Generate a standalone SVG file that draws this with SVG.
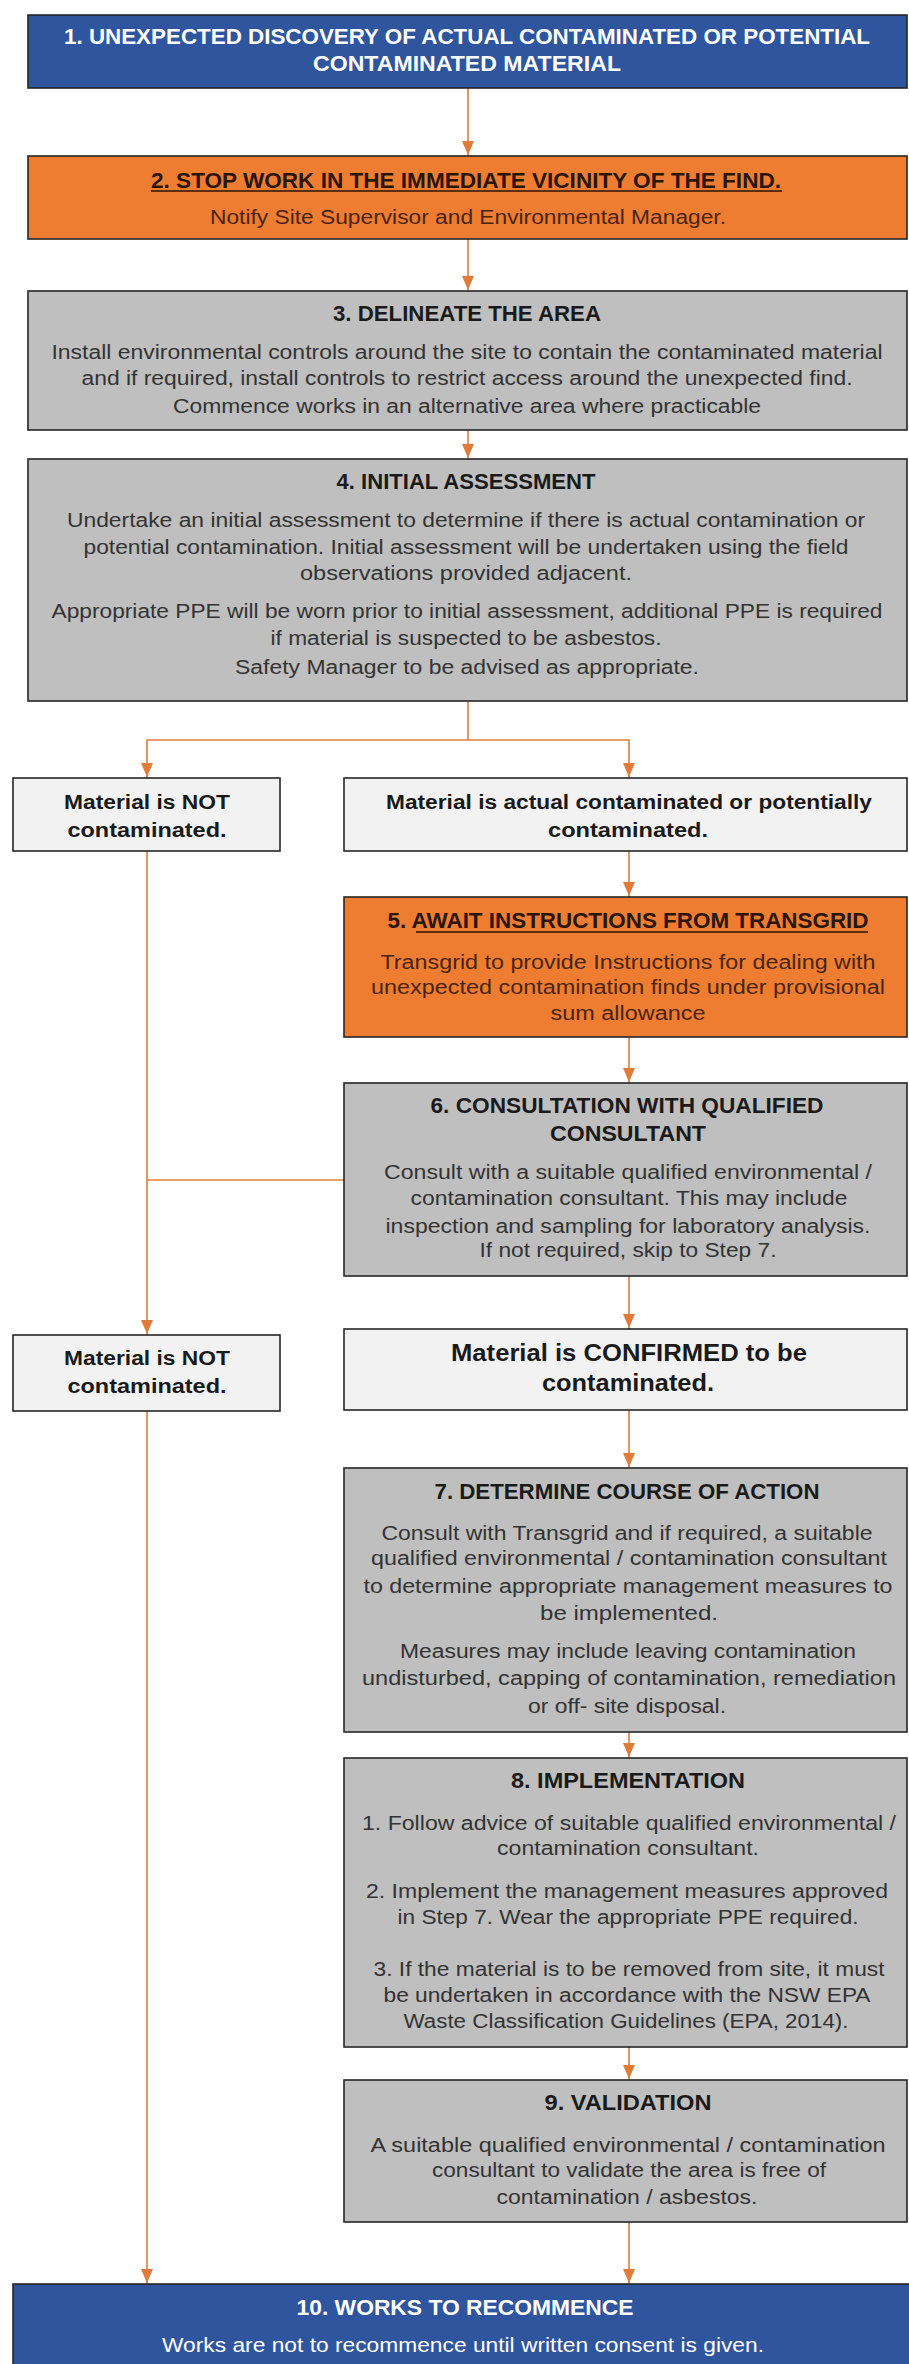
<svg xmlns="http://www.w3.org/2000/svg" width="909" height="2364" viewBox="0 0 909 2364">
<style>
.bx{stroke:#262626;stroke-width:1.6}
.blue{fill:#2F559E}
.org{fill:#EE7D31}
.gry{fill:#BFBFBF}
.lt{fill:#F2F2F2}
text{font-family:"Liberation Sans Narrow","Liberation Sans",Arial,sans-serif;text-anchor:middle}
.h{font-weight:bold;font-size:22px;fill:#1a1a1a}
.hw{font-weight:bold;font-size:22px;fill:#ffffff}
.ho{font-weight:bold;font-size:22px;fill:#2a1508}
.b{font-size:20px;fill:#333333}
.bo{font-size:20px;fill:#4a2410}
.bw{font-size:20px;fill:#ffffff}
.m{font-weight:bold;font-size:20px;fill:#1a1a1a}
.ul{stroke:#2a1508;stroke-width:1.5}
.c{stroke:#E07B39;stroke-width:1.6;fill:none}
.ah{fill:#E07B39}
</style>
<rect width="909" height="2364" fill="#ffffff"/>

<g id="connectors">
<line class="c" x1="468" y1="88" x2="468" y2="156"/>
<path class="ah" d="M462,141 L474,141 L468,155 Z"/>
<line class="c" x1="468" y1="239" x2="468" y2="291"/>
<path class="ah" d="M462,276 L474,276 L468,290 Z"/>
<line class="c" x1="468" y1="430" x2="468" y2="459"/>
<path class="ah" d="M462,444 L474,444 L468,458 Z"/>
<polyline class="c" points="468,701 468,740"/>
<polyline class="c" points="147,778 147,740 629,740 629,778"/>
<path class="ah" d="M141,763 L153,763 L147,777 Z"/>
<path class="ah" d="M623,763 L635,763 L629,777 Z"/>
<line class="c" x1="629" y1="851" x2="629" y2="897"/>
<path class="ah" d="M623,882 L635,882 L629,896 Z"/>
<line class="c" x1="629" y1="1037" x2="629" y2="1083"/>
<path class="ah" d="M623,1068 L635,1068 L629,1082 Z"/>
<line class="c" x1="147" y1="851" x2="147" y2="1335"/>
<path class="ah" d="M141,1320 L153,1320 L147,1334 Z"/>
<line class="c" x1="344" y1="1180" x2="147" y2="1180"/>
<line class="c" x1="629" y1="1276" x2="629" y2="1329"/>
<path class="ah" d="M623,1314 L635,1314 L629,1328 Z"/>
<line class="c" x1="629" y1="1410" x2="629" y2="1468"/>
<path class="ah" d="M623,1453 L635,1453 L629,1467 Z"/>
<line class="c" x1="629" y1="1732" x2="629" y2="1758"/>
<path class="ah" d="M623,1743 L635,1743 L629,1757 Z"/>
<line class="c" x1="629" y1="2047" x2="629" y2="2080"/>
<path class="ah" d="M623,2065 L635,2065 L629,2079 Z"/>
<line class="c" x1="629" y1="2222" x2="629" y2="2284"/>
<path class="ah" d="M623,2269 L635,2269 L629,2283 Z"/>
<line class="c" x1="147" y1="1411" x2="147" y2="2284"/>
<path class="ah" d="M141,2269 L153,2269 L147,2283 Z"/>
</g>

<g id="n1">
<rect class="bx blue" x="28" y="15" width="879" height="73"/>
<text class="hw" x="467" y="44" textLength="806" lengthAdjust="spacingAndGlyphs">1. UNEXPECTED DISCOVERY OF ACTUAL CONTAMINATED OR POTENTIAL</text>
<text class="hw" x="467" y="71" textLength="308" lengthAdjust="spacingAndGlyphs">CONTAMINATED MATERIAL</text>
</g>

<g id="n2">
<rect class="bx org" x="28" y="156" width="879" height="83"/>
<text class="ho" x="466" y="188" textLength="630" lengthAdjust="spacingAndGlyphs">2. STOP WORK IN THE IMMEDIATE VICINITY OF THE FIND.</text>
<line class="ul" x1="151" y1="191" x2="782" y2="191"/>
<text class="bo" x="468" y="224" textLength="516" lengthAdjust="spacingAndGlyphs">Notify Site Supervisor and Environmental Manager.</text>
</g>

<g id="n3">
<rect class="bx gry" x="28" y="291" width="879" height="139"/>
<text class="h" x="467" y="321" textLength="268" lengthAdjust="spacingAndGlyphs">3. DELINEATE THE AREA</text>
<text class="b" x="467" y="359" textLength="831" lengthAdjust="spacingAndGlyphs">Install environmental controls around the site to contain the contaminated material</text>
<text class="b" x="467" y="385" textLength="771" lengthAdjust="spacingAndGlyphs">and if required, install controls to restrict access around the unexpected find.</text>
<text class="b" x="467" y="413" textLength="588" lengthAdjust="spacingAndGlyphs">Commence works in an alternative area where practicable</text>
</g>

<g id="n4">
<rect class="bx gry" x="28" y="459" width="879" height="242"/>
<text class="h" x="466" y="489" textLength="259" lengthAdjust="spacingAndGlyphs">4. INITIAL ASSESSMENT</text>
<text class="b" x="466" y="527" textLength="798" lengthAdjust="spacingAndGlyphs">Undertake an initial assessment to determine if there is actual contamination or</text>
<text class="b" x="466" y="554" textLength="765" lengthAdjust="spacingAndGlyphs">potential contamination. Initial assessment will be undertaken using the field</text>
<text class="b" x="466" y="580" textLength="332" lengthAdjust="spacingAndGlyphs">observations provided adjacent.</text>
<text class="b" x="467" y="618" textLength="831" lengthAdjust="spacingAndGlyphs">Appropriate PPE will be worn prior to initial assessment, additional PPE is required</text>
<text class="b" x="466" y="645" textLength="391" lengthAdjust="spacingAndGlyphs">if material is suspected to be asbestos.</text>
<text class="b" x="467" y="674" textLength="464" lengthAdjust="spacingAndGlyphs">Safety Manager to be advised as appropriate.</text>
</g>

<g id="not1">
<rect class="bx lt" x="13" y="778" width="267" height="73"/>
<text class="m" x="147" y="809" textLength="166" lengthAdjust="spacingAndGlyphs">Material is NOT</text>
<text class="m" x="147" y="837" textLength="159" lengthAdjust="spacingAndGlyphs">contaminated.</text>
</g>

<g id="cont">
<rect class="bx lt" x="344" y="778" width="563" height="73"/>
<text class="m" x="629" y="809" textLength="486" lengthAdjust="spacingAndGlyphs">Material is actual contaminated or potentially</text>
<text class="m" x="628" y="837" textLength="160" lengthAdjust="spacingAndGlyphs">contaminated.</text>
</g>

<g id="n5">
<rect class="bx org" x="344" y="897" width="563" height="140"/>
<text class="ho" x="628" y="928" textLength="481" lengthAdjust="spacingAndGlyphs">5. AWAIT INSTRUCTIONS FROM TRANSGRID</text>
<line class="ul" x1="416" y1="932" x2="868" y2="932"/>
<text class="bo" x="628" y="969" textLength="495" lengthAdjust="spacingAndGlyphs">Transgrid to provide Instructions for dealing with</text>
<text class="bo" x="628" y="994" textLength="514" lengthAdjust="spacingAndGlyphs">unexpected contamination finds under provisional</text>
<text class="bo" x="628" y="1020" textLength="155" lengthAdjust="spacingAndGlyphs">sum allowance</text>
</g>

<g id="n6">
<rect class="bx gry" x="344" y="1083" width="563" height="193"/>
<text class="h" x="627" y="1113" textLength="393" lengthAdjust="spacingAndGlyphs">6. CONSULTATION WITH QUALIFIED</text>
<text class="h" x="628" y="1141" textLength="156" lengthAdjust="spacingAndGlyphs">CONSULTANT</text>
<text class="b" x="628" y="1179" textLength="488" lengthAdjust="spacingAndGlyphs">Consult with a suitable qualified environmental /</text>
<text class="b" x="629" y="1205" textLength="437" lengthAdjust="spacingAndGlyphs">contamination consultant. This may include</text>
<text class="b" x="628" y="1233" textLength="485" lengthAdjust="spacingAndGlyphs">inspection and sampling for laboratory analysis.</text>
<text class="b" x="628" y="1257" textLength="297" lengthAdjust="spacingAndGlyphs">If not required, skip to Step 7.</text>
</g>

<g id="not2">
<rect class="bx lt" x="13" y="1335" width="267" height="76"/>
<text class="m" x="147" y="1365" textLength="166" lengthAdjust="spacingAndGlyphs">Material is NOT</text>
<text class="m" x="147" y="1393" textLength="159" lengthAdjust="spacingAndGlyphs">contaminated.</text>
</g>

<g id="conf">
<rect class="bx lt" x="344" y="1329" width="563" height="81"/>
<text class="m" x="629" y="1361" style="font-size:23px" textLength="356" lengthAdjust="spacingAndGlyphs">Material is CONFIRMED to be</text>
<text class="m" x="628" y="1391" style="font-size:23px" textLength="172" lengthAdjust="spacingAndGlyphs">contaminated.</text>
</g>

<g id="n7">
<rect class="bx gry" x="344" y="1468" width="563" height="264"/>
<text class="h" x="627" y="1499" textLength="385" lengthAdjust="spacingAndGlyphs">7. DETERMINE COURSE OF ACTION</text>
<text class="b" x="627" y="1540" textLength="491" lengthAdjust="spacingAndGlyphs">Consult with Transgrid and if required, a suitable</text>
<text class="b" x="629" y="1565" textLength="516" lengthAdjust="spacingAndGlyphs">qualified environmental / contamination consultant</text>
<text class="b" x="628" y="1593" textLength="529" lengthAdjust="spacingAndGlyphs">to determine appropriate management measures to</text>
<text class="b" x="629" y="1620" textLength="178" lengthAdjust="spacingAndGlyphs">be implemented.</text>
<text class="b" x="628" y="1658" textLength="456" lengthAdjust="spacingAndGlyphs">Measures may include leaving contamination</text>
<text class="b" x="629" y="1685" textLength="534" lengthAdjust="spacingAndGlyphs">undisturbed, capping of contamination, remediation</text>
<text class="b" x="627" y="1713" textLength="198" lengthAdjust="spacingAndGlyphs">or off- site disposal.</text>
</g>

<g id="n8">
<rect class="bx gry" x="344" y="1758" width="563" height="289"/>
<text class="h" x="628" y="1788" textLength="234" lengthAdjust="spacingAndGlyphs">8. IMPLEMENTATION</text>
<text class="b" x="629" y="1830" textLength="534" lengthAdjust="spacingAndGlyphs">1. Follow advice of suitable qualified environmental /</text>
<text class="b" x="628" y="1855" textLength="262" lengthAdjust="spacingAndGlyphs">contamination consultant.</text>
<text class="b" x="627" y="1898" textLength="522" lengthAdjust="spacingAndGlyphs">2. Implement the management measures approved</text>
<text class="b" x="628" y="1924" textLength="461" lengthAdjust="spacingAndGlyphs">in Step 7. Wear the appropriate PPE required.</text>
<text class="b" x="629" y="1976" textLength="511" lengthAdjust="spacingAndGlyphs">3. If the  material is to be removed from site, it must</text>
<text class="b" x="627" y="2002" textLength="487" lengthAdjust="spacingAndGlyphs">be undertaken in accordance with the NSW EPA</text>
<text class="b" x="626" y="2028" textLength="445" lengthAdjust="spacingAndGlyphs">Waste Classification Guidelines (EPA, 2014).</text>
</g>

<g id="n9">
<rect class="bx gry" x="344" y="2080" width="563" height="142"/>
<text class="h" x="628" y="2110" textLength="167" lengthAdjust="spacingAndGlyphs">9. VALIDATION</text>
<text class="b" x="628" y="2152" textLength="515" lengthAdjust="spacingAndGlyphs">A suitable qualified environmental / contamination</text>
<text class="b" x="629" y="2177" textLength="394" lengthAdjust="spacingAndGlyphs">consultant to validate the area is free of</text>
<text class="b" x="627" y="2204" textLength="261" lengthAdjust="spacingAndGlyphs">contamination / asbestos.</text>
</g>

<g id="n10">
<rect class="bx blue" x="13" y="2284" width="900" height="100"/>
<text class="hw" x="465" y="2315" textLength="337" lengthAdjust="spacingAndGlyphs">10. WORKS TO RECOMMENCE</text>
<text class="bw" x="463" y="2352" textLength="602" lengthAdjust="spacingAndGlyphs">Works are not to recommence until written consent is given.</text>
</g>
</svg>
